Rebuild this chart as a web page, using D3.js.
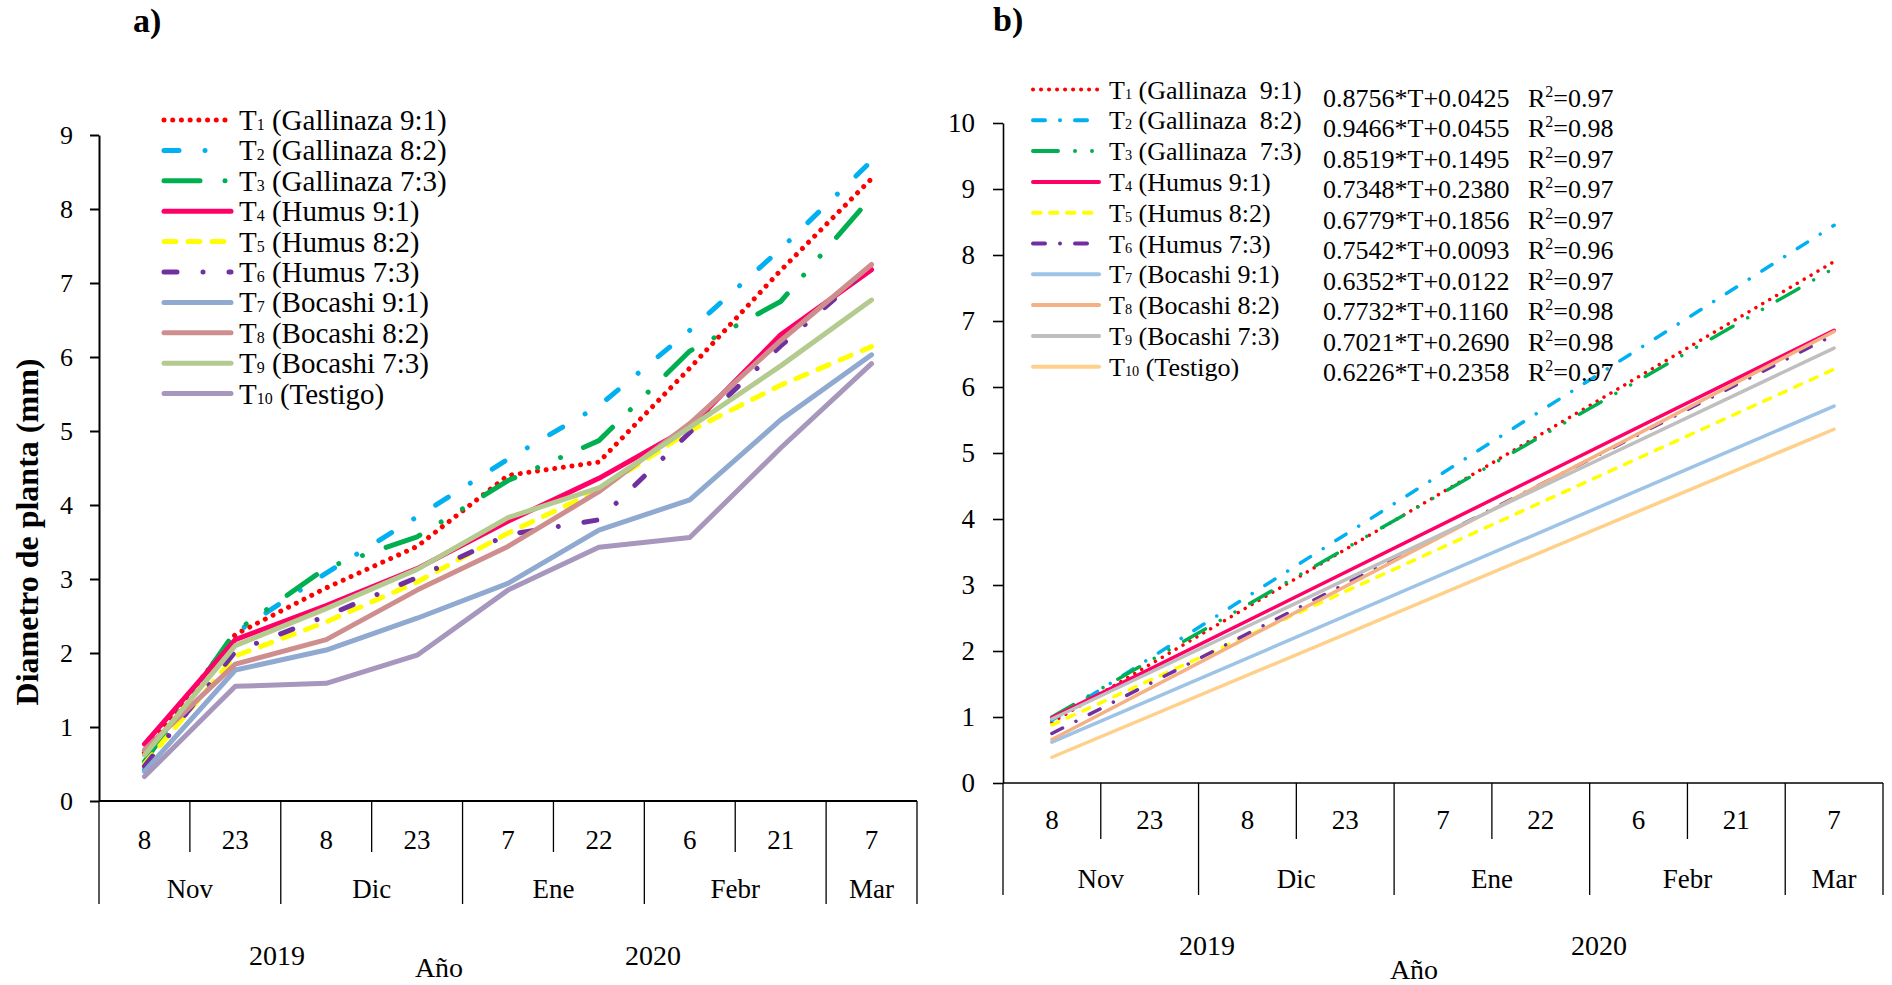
<!DOCTYPE html>
<html>
<head>
<meta charset="utf-8">
<script src="https://cdn.jsdelivr.net/npm/d3@7"></script>
<style>
  body { margin: 0; background: #fff; }
  svg text { font-family: "Liberation Serif", "Times New Roman", serif; fill: #000; white-space: pre; }
</style>
</head>
<body>
<div id="chart"></div>
<script>
// categories
const days = ["8", "23", "8", "23", "7", "22", "6", "21", "7"];
const months = ["Nov", "Dic", "Ene", "Febr", "Mar"];
const monthSpan = [2, 2, 2, 2, 1];
const years = ["2019", "2020"];

const treatNum = ["1", "2", "3", "4", "5", "6", "7", "8", "9", "10"];
const treatName = ["(Gallinaza 9:1)", "(Gallinaza 8:2)", "(Gallinaza 7:3)", "(Humus 9:1)", "(Humus 8:2)",
  "(Humus 7:3)", "(Bocashi 9:1)", "(Bocashi 8:2)", "(Bocashi 7:3)", "(Testigo)"];

// a) measured diameter (mm)
const t1 = [0.65, 2.25, 2.88, 3.44, 4.40, 4.58, 5.85, 7.17, 8.41];
const t2 = [0.42, 2.27, 3.08, 3.84, 4.62, 5.34, 6.36, 7.46, 8.65];
const t3 = [0.53, 2.29, 3.15, 3.57, 4.33, 4.87, 6.08, 6.75, 8.16];
const t4 = [0.77, 2.18, 2.64, 3.14, 3.78, 4.36, 5.05, 6.30, 7.18];
const t5 = [0.50, 1.96, 2.42, 2.96, 3.62, 4.20, 5.00, 5.62, 6.14];
const t6 = [0.47, 2.02, 2.50, 3.02, 3.60, 3.80, 4.98, 6.15, 7.22];
const t7 = [0.40, 1.77, 2.04, 2.47, 2.94, 3.66, 4.07, 5.15, 6.03];
const t8 = [0.69, 1.85, 2.18, 2.85, 3.44, 4.18, 5.10, 6.22, 7.25];
const t9 = [0.62, 2.10, 2.60, 3.13, 3.83, 4.23, 5.05, 5.88, 6.77];
const t10 = [0.33, 1.55, 1.59, 1.97, 2.85, 3.43, 3.56, 4.77, 5.91];
const seriesA = [t1, t2, t3, t4, t5, t6, t7, t8, t9, t10];

// b) fitted lines: value at first and last date
const fitStart = [0.92, 0.95, 1.00, 0.99, 0.88, 0.75, 0.62, 0.66, 0.97, 0.39];
const fitEnd = [7.90, 8.45, 7.80, 6.86, 6.27, 6.79, 5.71, 6.84, 6.59, 5.36];
const fitEq = ["0.8756*T+0.0425", "0.9466*T+0.0455", "0.8519*T+0.1495", "0.7348*T+0.2380", "0.6779*T+0.1856",
  "0.7542*T+0.0093", "0.6352*T+0.0122", "0.7732*T+0.1160", "0.7021*T+0.2690", "0.6226*T+0.2358"];
const fitR2 = ["0.97", "0.98", "0.97", "0.97", "0.97", "0.96", "0.97", "0.98", "0.98", "0.97"];

// styles
const colA = ["#FF0000", "#00B0F0", "#00B050", "#FF0066", "#FFFF00", "#7030A0", "#8FA9D0", "#CF8E8E", "#B4CA8F", "#A797BC"];
const colB = ["#FF0000", "#00B0F0", "#00B050", "#FF0066", "#FFFF00", "#7030A0", "#9DC3E6", "#F4B183", "#BFBFBF", "#FFD08A"];
const dashA = ["0.01 8.7", "15 26 0.01 26", "36 25 0.01 25 0.01 25", null, "12 12", "13 26 0.01 26", null, null, null, null];
const dashB = ["0.01 8", "12 15 0.01 15", "25 17 0.01 17 0.01 17", null, "7.5 9.5", "12 15 0.01 15", null, null, null, null];

const svg = d3.select("#chart").append("svg").attr("width", 1892).attr("height", 985);

function legendLabel(sel, i, fs, gap) {
  sel.append("tspan").text("T");
  sel.append("tspan").attr("font-size", fs * 0.55).text(treatNum[i]);
  sel.append("tspan").text(" " + treatName[i].replace(" ", gap));
}

function drawPanel(c) {
  const g = svg.append("g");
  const x = d3.scaleLinear().domain([0, days.length]).range([c.left, c.right]);
  const y = d3.scaleLinear().domain([0, c.yMax]).range([c.y0, c.y1]);

  // y axis
  const ya = g.append("g").attr("transform", `translate(${c.left},0)`)
    .call(d3.axisLeft(y).ticks(c.yMax).tickSize(c.tick).tickSizeOuter(0).tickPadding(c.pad));
  ya.selectAll("path, line").attr("stroke", "#000").attr("stroke-width", c.axisW);
  ya.selectAll("text").attr("font-size", c.tickFs).attr("font-family", "Liberation Serif");

  // x axis line and category separators
  g.append("line").attr("x1", c.left).attr("x2", c.right).attr("y1", c.y0).attr("y2", c.y0)
    .attr("stroke", "#000").attr("stroke-width", c.axisW);
  const monthEdges = Array.from(d3.cumsum(monthSpan));
  const edges = d3.range(0, days.length + 1);
  g.selectAll(".sep").data(edges).enter().append("line")
    .attr("x1", d => x(d)).attr("x2", d => x(d))
    .attr("y1", c.y0)
    .attr("y2", d => (d === 0 || monthEdges.includes(d)) ? c.monthDrop : c.dayDrop)
    .attr("stroke", "#000").attr("stroke-width", 1.3);
  g.selectAll(".day").data(days).enter().append("text")
    .attr("x", (d, i) => x(i + 0.5)).attr("y", c.dayBase)
    .attr("text-anchor", "middle").attr("font-size", c.catFs).text(d => d);
  const mStart = [0].concat(monthEdges.slice(0, -1));
  g.selectAll(".month").data(months).enter().append("text")
    .attr("x", (d, i) => x(mStart[i] + monthSpan[i] / 2)).attr("y", c.monthBase)
    .attr("text-anchor", "middle").attr("font-size", c.catFs).text(d => d);
  g.selectAll(".year").data(years).enter().append("text")
    .attr("x", (d, i) => c.yearX[i]).attr("y", c.yearBase)
    .attr("text-anchor", "middle").attr("font-size", 28).text(d => d);
  g.append("text").attr("x", c.anoX).attr("y", c.anoBase)
    .attr("text-anchor", "middle").attr("font-size", 28).text("Año");

  g.append("text").attr("x", c.titleX).attr("y", c.titleY)
    .attr("font-size", 34).attr("font-weight", "bold").text(c.title);

  return { g, x, y };
}

// ---------- panel a ----------
const A = drawPanel({
  left: 99, right: 917, y0: 801, y1: 135, yMax: 9, tick: 9, pad: 17, axisW: 2,
  tickFs: 26, catFs: 27, dayDrop: 852, monthDrop: 904, dayBase: 849, monthBase: 898,
  yearX: [277, 653], yearBase: 965, anoX: 439, anoBase: 977,
  title: "a)", titleX: 133, titleY: 32
});

svg.append("text").attr("transform", "translate(38,532) rotate(-90)")
  .attr("text-anchor", "middle").attr("font-size", 32).attr("font-weight", "bold")
  .text("Diametro de planta (mm)");

const lineA = d3.line().x((d, i) => A.x(i + 0.5)).y(d => A.y(d));
A.g.selectAll(".sa").data(seriesA).enter().append("path")
  .attr("d", d => lineA(d)).attr("fill", "none")
  .attr("stroke", (d, i) => colA[i]).attr("stroke-width", 5)
  .attr("stroke-linecap", "round").attr("stroke-linejoin", "round")
  .attr("stroke-dasharray", (d, i) => dashA[i]);

const legA = A.g.selectAll(".la").data(seriesA).enter().append("g")
  .attr("transform", (d, i) => `translate(0,${120 + i * 30.4})`);
legA.append("line").attr("x1", 164).attr("x2", 231).attr("y1", 0).attr("y2", 0)
  .attr("stroke", (d, i) => colA[i]).attr("stroke-width", 5).attr("stroke-linecap", "round")
  .attr("stroke-dasharray", (d, i) => dashA[i]);
legA.append("text").attr("x", 239).attr("y", 10).attr("font-size", 29)
  .each(function (d, i) { legendLabel(d3.select(this), i, 29, " "); });

// ---------- panel b ----------
const B = drawPanel({
  left: 1003, right: 1883, y0: 783, y1: 123, yMax: 10, tick: 10, pad: 18, axisW: 1.6,
  tickFs: 27, catFs: 27, dayDrop: 839, monthDrop: 895, dayBase: 829, monthBase: 888,
  yearX: [1207, 1599], yearBase: 955, anoX: 1414, anoBase: 979,
  title: "b)", titleX: 993, titleY: 31
});

const last = days.length - 1;
B.g.selectAll(".sb").data(fitStart).enter().append("line")
  .attr("x1", B.x(0.5)).attr("x2", B.x(last + 0.5))
  .attr("y1", d => B.y(d)).attr("y2", (d, i) => B.y(fitEnd[i]))
  .attr("stroke", (d, i) => colB[i]).attr("stroke-width", 3.5)
  .attr("stroke-linecap", "round")
  .attr("stroke-dasharray", (d, i) => dashB[i]);

const legB = B.g.selectAll(".lb").data(fitStart).enter().append("g")
  .attr("transform", (d, i) => `translate(0,${89.5 + i * 30.8})`);
legB.append("line").attr("x1", 1033).attr("x2", 1099).attr("y1", 0).attr("y2", 0)
  .attr("stroke", (d, i) => colB[i]).attr("stroke-width", 4).attr("stroke-linecap", "round")
  .attr("stroke-dasharray", (d, i) => dashB[i]);
legB.append("text").attr("x", 1109).attr("y", 9).attr("font-size", 26)
  .each(function (d, i) { legendLabel(d3.select(this), i, 26, i < 3 ? "  " : " "); });

const eqB = B.g.selectAll(".eq").data(fitEq).enter().append("g")
  .attr("transform", (d, i) => `translate(0,${106.7 + i * 30.5})`);
eqB.append("text").attr("x", 1323).attr("y", 0).attr("font-size", 26).text(d => d);
eqB.append("text").attr("x", 1528).attr("y", 0).attr("font-size", 26)
  .each(function (d, i) {
    const t = d3.select(this);
    t.append("tspan").text("R");
    t.append("tspan").attr("font-size", 16).attr("dy", -10).text("2");
    t.append("tspan").attr("dy", 10).text("=" + fitR2[i]);
  });
</script>
</body>
</html>
